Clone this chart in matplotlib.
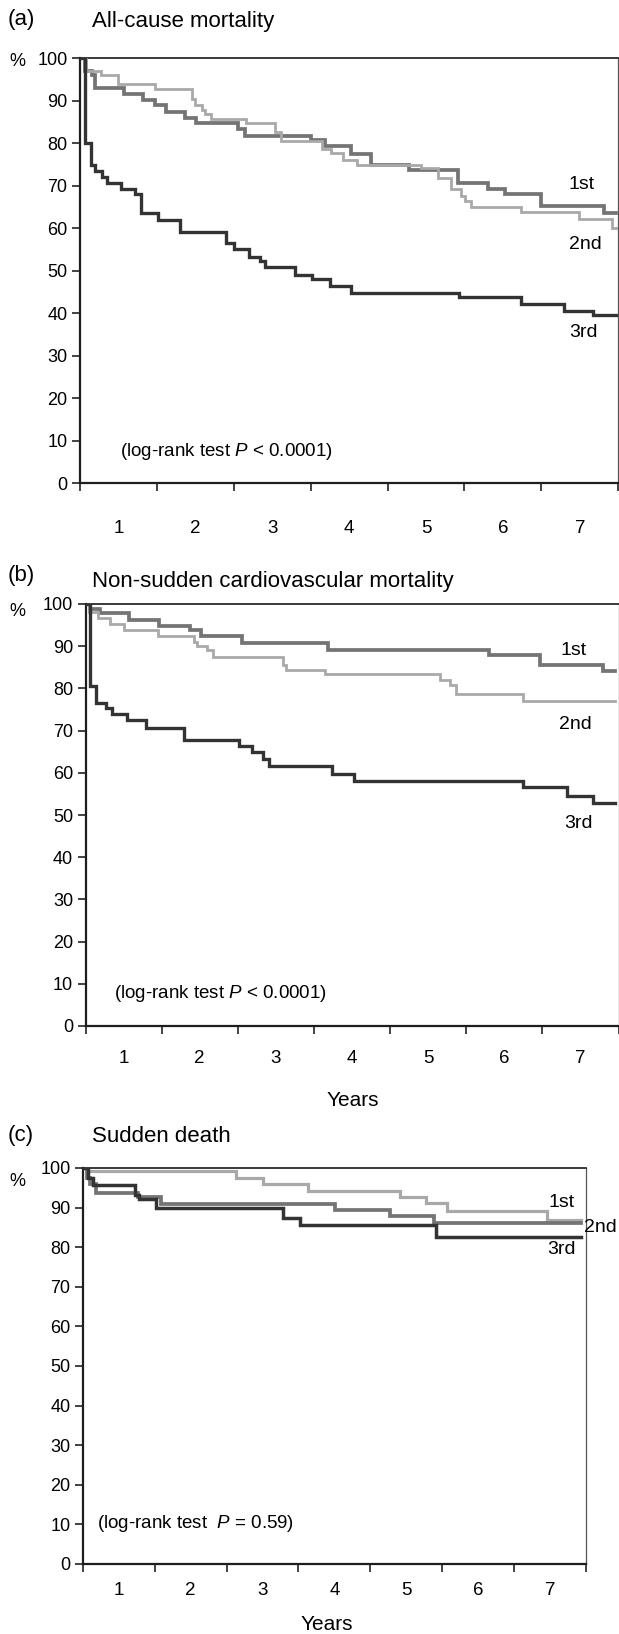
import matplotlib
matplotlib.use('Agg')
import matplotlib.pyplot as plt

plt.rcParams['font.family'] = ['Liberation Sans', 'DejaVu Sans']

# ---------------- data (years, survival %) ----------------
a_t1 = [0, 0.06, 0.15, 0.195, 0.57, 0.82, 0.97, 1.12, 1.37, 1.51, 2.05, 2.15, 3.00, 3.18, 3.52, 3.79, 4.28, 4.91, 5.31, 5.53, 5.99, 6.81, 6.97]
a_s1 = [100, 97, 96, 93, 91.5, 90.3, 89, 87.3, 86, 84.7, 83.3, 81.8, 80.8, 79.4, 77.6, 75, 73.8, 70.6, 69.3, 68, 65.2, 63.7, 63.7]
a_t2 = [0, 0.08, 0.27, 0.50, 0.97, 1.45, 1.50, 1.58, 1.63, 1.71, 2.16, 2.53, 2.62, 3.15, 3.27, 3.42, 3.60, 4.43, 4.66, 4.82, 4.96, 5.01, 5.08, 5.74, 6.49, 6.92, 6.97]
a_s2 = [100, 97, 96, 94, 92.8, 90.4, 89, 87.8, 86.9, 85.7, 84.7, 82.7, 80.5, 78.6, 77.7, 76.1, 74.9, 74.1, 71.8, 69.3, 67.6, 66.4, 64.9, 63.8, 62.1, 60.1, 60.1]
a_t3 = [0, 0.07, 0.14, 0.19, 0.29, 0.35, 0.53, 0.72, 0.79, 1.01, 1.30, 1.90, 2.00, 2.20, 2.34, 2.41, 2.80, 3.02, 3.25, 3.52, 4.93, 5.73, 6.30, 6.67, 6.97]
a_s3 = [100, 80, 75, 73.5, 72, 70.6, 69.2, 68, 63.7, 62, 59.2, 56.6, 55.2, 53.3, 52.3, 50.9, 49.1, 48, 46.5, 44.8, 43.8, 42.2, 40.6, 39.6, 39.6]

b_t1 = [0, 0.06, 0.19, 0.57, 0.97, 1.37, 1.52, 2.05, 3.18, 5.30, 5.97, 6.80, 6.96]
b_s1 = [100, 98.8, 97.9, 96.2, 94.8, 93.8, 92.3, 90.7, 89.2, 87.8, 85.6, 84.1, 84.1]
b_t2 = [0, 0.05, 0.17, 0.32, 0.50, 0.95, 1.43, 1.47, 1.60, 1.67, 2.59, 2.63, 3.14, 4.66, 4.79, 4.87, 5.74, 6.96]
b_s2 = [100, 98.2, 96.6, 95.3, 93.8, 92.5, 91, 90, 89, 87.4, 85.5, 84.3, 83.3, 81.9, 80.8, 78.6, 77, 77]
b_t3 = [0, 0.055, 0.14, 0.27, 0.35, 0.54, 0.79, 1.29, 2.01, 2.19, 2.33, 2.41, 3.24, 3.52, 5.74, 6.32, 6.66, 6.96]
b_s3 = [100, 80.6, 76.5, 75.4, 74, 72.4, 70.7, 67.7, 66.4, 64.9, 63.2, 61.5, 59.6, 58.1, 56.6, 54.5, 52.9, 52.9]

c_t1 = [0, 0.05, 2.13, 2.51, 3.14, 4.42, 4.77, 5.07, 6.46, 6.94]
c_s1 = [100, 99.3, 97.6, 96, 94.3, 92.6, 91.2, 89.1, 86.8, 86.8]
c_t2 = [0, 0.05, 0.10, 0.18, 0.76, 1.09, 3.51, 4.27, 4.89, 6.94]
c_s2 = [100, 97.5, 96, 93.8, 92.7, 91, 89.5, 88, 86.2, 86.2]
c_t3 = [0, 0.07, 0.14, 0.73, 0.78, 1.01, 2.79, 3.02, 4.92, 6.94]
c_s3 = [100, 97.5, 95.7, 93.3, 92.2, 90, 87.5, 85.5, 82.7, 82.7]

x_tick_labels = ['1', '2', '3', '4', '5', '6', '7']
y_ticks = [0, 10, 20, 30, 40, 50, 60, 70, 80, 90, 100]
group_labels = ['1st', '2nd', '3rd']
panel_letters = ['(a)', '(b)', '(c)']
panel_titles = ['All-cause mortality', 'Non-sudden cardiovascular mortality', 'Sudden death']
logrank_texts = [r'(log-rank test $P$ < 0.0001)', r'(log-rank test $P$ < 0.0001)', r'(log-rank test  $P$ = 0.59)']

# ---------------- styling / layout ----------------
W, H = 619, 1634
fig = plt.figure(figsize=(W / 100, H / 100), dpi=100)
plt.rcParams['mathtext.fontset'] = 'custom'
plt.rcParams['mathtext.it'] = 'Liberation Sans:italic'
plt.rcParams['mathtext.rm'] = 'Liberation Sans'

C_LIGHT, C_MED, C_DARK = '#a9a9a9', '#747474', '#333333'


def px_axes(l, t, r, b):
    return fig.add_axes([l / W, 1 - b / H, (r - l) / W, (b - t) / H])


panels = [
    dict(box=(80, 58.3, 618.3, 483.3), pad=26.5,
         curves=[(a_t1, a_s1, C_MED, 2.7), (a_t2, a_s2, C_LIGHT, 2.0), (a_t3, a_s3, C_DARK, 2.4)],
         labels=[(6.52, 70.2), (6.57, 56.3), (6.55, 35.4)],
         logrank=(0.52, 7.4), letter_y=20, title_y=21, pct_y=62),
    dict(box=(85.5, 604, 618.5, 1026), pad=17.5,
         curves=[(b_t1, b_s1, C_MED, 2.7), (b_t2, b_s2, C_LIGHT, 2.0), (b_t3, b_s3, C_DARK, 2.4)],
         labels=[(6.41, 88.9), (6.43, 71.4), (6.48, 48.0)],
         logrank=(0.38, 7.6), letter_y=575, title_y=582, pct_y=612),
    dict(box=(83, 1168, 585.7, 1564), pad=13.0,
         curves=[(c_t1, c_s1, C_LIGHT, 2.3), (c_t2, c_s2, C_MED, 2.7), (c_t3, c_s3, C_DARK, 2.5)],
         labels=[(6.67, 91.4), (7.21, 85.1), (6.66, 79.3)],
         logrank=(0.2, 10.3), letter_y=1136, title_y=1136, pct_y=1182),
]

for i, p in enumerate(panels):
    ax = px_axes(*p['box'])
    for t, s, col, lw in p['curves']:
        ax.step(t, s, where='post', color=col, lw=lw, solid_joinstyle='miter', zorder=3)
    ax.set_xlim(0, 7)
    ax.set_ylim(0, 100)
    ax.set_xticks(range(0, 8))
    ax.set_xticklabels([])
    ax.set_xticks([k + 0.5 for k in range(7)], minor=True)
    ax.set_xticklabels(x_tick_labels, minor=True, fontsize=13.5)
    ax.set_yticks(y_ticks)
    ax.set_yticklabels([str(v) for v in y_ticks], fontsize=13)
    ax.tick_params(axis='x', which='major', direction='out', length=6, width=1.2, color='#222222')
    ax.tick_params(axis='x', which='minor', length=0, pad=p['pad'])
    ax.tick_params(axis='y', which='major', direction='out', length=6, width=1.2, pad=3, color='#222222')
    for side in ['left', 'bottom']:
        ax.spines[side].set_linewidth(1.6)
        ax.spines[side].set_color('#1e1e1e')
    ax.spines['top'].set_linewidth(1.3)
    ax.spines['top'].set_color('#2a2a2a')
    ax.spines['right'].set_linewidth(0.9)
    ax.spines['right'].set_color('#555555')
    for (lx, ly), lab in zip(p['labels'], group_labels):
        ax.text(lx, ly, lab, ha='center', va='center', fontsize=14, clip_on=False)
    ax.text(p['logrank'][0], p['logrank'][1], logrank_texts[i], ha='left', va='center', fontsize=13.5)
    fig.text(8 / W, 1 - p['letter_y'] / H, panel_letters[i], ha='left', va='center', fontsize=16)
    fig.text(92 / W, 1 - p['title_y'] / H, panel_titles[i], ha='left', va='center', fontsize=16)
    fig.text(9 / W, 1 - p['pct_y'] / H, '%', ha='left', va='center', fontsize=13)

fig.text(353 / W, 1 - 1100 / H, 'Years', ha='center', va='center', fontsize=15)
fig.text(327 / W, 1 - 1625 / H, 'Years', ha='center', va='center', fontsize=15)

fig.savefig('out.png', dpi=100)
